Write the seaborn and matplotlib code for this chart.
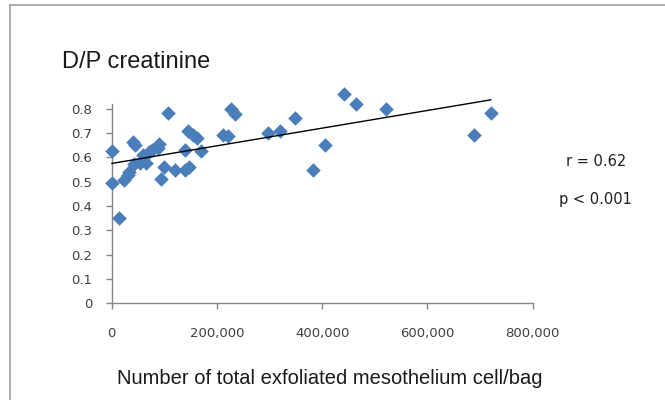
import matplotlib
matplotlib.use("Agg")
import matplotlib.pyplot as plt
from matplotlib.lines import Line2D
from matplotlib.ticker import FuncFormatter
import seaborn as sns
import pandas as pd

# Exfoliated mesothelial cells per bag vs dialysate/plasma creatinine
cells_per_bag = [
    0, 1000, 14000, 23000, 31500, 33500, 41000, 43700, 43000, 53800,
    60000, 64600, 71400, 76000, 88500, 90400, 93700, 99400, 107500, 120000,
    139000, 147500, 139000, 145500, 155000, 161500, 169700, 212000, 221500, 226700,
    234300, 297500, 319800, 348000, 383000, 405000, 441000, 465000, 521000, 689000,
    720700,
]
dp_creatinine = [
    0.628, 0.496, 0.35, 0.507, 0.528, 0.539, 0.665, 0.651, 0.572, 0.576,
    0.61, 0.576, 0.624, 0.631, 0.638, 0.654, 0.51, 0.562, 0.782, 0.549,
    0.549, 0.562, 0.631, 0.709, 0.693, 0.679, 0.627, 0.693, 0.69, 0.80,
    0.78, 0.70, 0.709, 0.761, 0.549, 0.651, 0.86, 0.82, 0.80, 0.693,
    0.782,
]
x_ticks = [0, 200000, 400000, 600000, 800000]
y_ticks = [0, 0.1, 0.2, 0.3, 0.4, 0.5, 0.6, 0.7, 0.8]
title_text = "D/P creatinine"
x_label = "Number of total exfoliated mesothelium cell/bag"
stat_lines = ["r = 0.62", "p < 0.001"]

df = pd.DataFrame({"cells": cells_per_bag, "dp": dp_creatinine})

sns.set_style("white")
plt.rcParams["font.family"] = ["DejaVu Sans"]

W, H = 665, 400
fig = plt.figure(figsize=(W / 100, H / 100), dpi=100)
fig.patch.set_facecolor("white")

# outer frame: top and left edges
frame_kw = dict(transform=fig.transFigure, color="#a6a6a6", linewidth=1.3)
fig.add_artist(Line2D([10 / W, 1.0], [1 - 5 / H, 1 - 5 / H], **frame_kw))
fig.add_artist(Line2D([10 / W, 10 / W], [0.0, 1 - 5 / H], **frame_kw))

ax = fig.add_axes([111.7 / W, 1 - 303.3 / H, 421 / W, 199.3 / H])

sns.regplot(data=df, x="cells", y="dp", ax=ax, ci=None, marker="D",
            scatter_kws={"s": 55, "color": "#4a7ebb", "linewidths": 0,
                         "alpha": 1, "clip_on": False, "zorder": 3},
            line_kws={"color": "black", "linewidth": 1.0, "zorder": 4,
                      "clip_on": False})

ax.set_xlim(0, 800000)
ax.set_ylim(0, 0.82)
ax.set_xticks(x_ticks)
ax.set_yticks(y_ticks)
ax.xaxis.set_major_formatter(FuncFormatter(lambda v, p: f"{int(v):,}"))
ax.yaxis.set_major_formatter(FuncFormatter(lambda v, p: "0" if v == 0 else f"{v:.1f}"))

for s in ["top", "right"]:
    ax.spines[s].set_visible(False)
for s in ["left", "bottom"]:
    ax.spines[s].set_color("#868686")
    ax.spines[s].set_linewidth(1.0)

ax.tick_params(axis="both", which="major", length=4, width=1.0, color="#868686",
               labelsize=9.5, labelcolor="#404040", direction="out")
ax.tick_params(axis="x", pad=13, bottom=True)
ax.tick_params(axis="y", pad=10, left=True)
ax.set_xlabel("")
ax.set_ylabel("")

fig.text(62 / W, 1 - 62 / H, title_text, family="Liberation Sans",
         fontsize=17, color="#1a1a1a", ha="left", va="center")
fig.text(330 / W, 1 - 379 / H, x_label, family="Liberation Sans",
         fontsize=14.5, color="#1a1a1a", ha="center", va="center")
fig.text(596 / W, 1 - 162 / H, stat_lines[0], fontsize=10.5,
         color="#202020", ha="center", va="center")
fig.text(595 / W, 1 - 199 / H, stat_lines[1], fontsize=10.5,
         color="#202020", ha="center", va="center")

fig.savefig("out.png", dpi=100, facecolor="white")
